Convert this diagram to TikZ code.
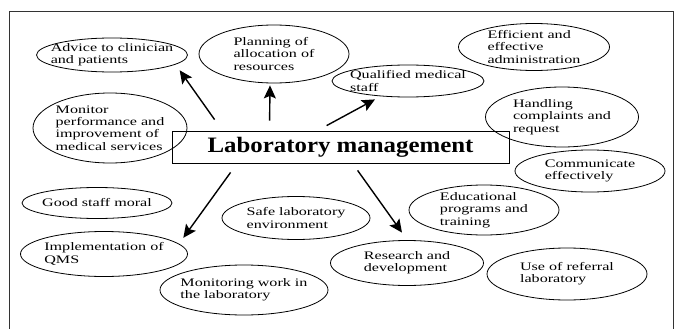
\documentclass[tikz,border=0pt]{standalone}
\usepackage{fontspec}
\setmainfont{Liberation Serif}
\newfontfamily\ellfont{Liberation Serif}[FakeStretch=1.4]
\newfontfamily\titlefont{Liberation Serif}[FakeStretch=1.13]
\usetikzlibrary{shapes.geometric,arrows.meta}

\tikzset{
  idea/.style 2 args={ellipse, draw, line width=0.8pt, inner sep=0pt, minimum width=#1, minimum height=#2},
  ideatext/.style={align=left, inner sep=0pt, font=\ellfont\fontsize{11.5}{12.3}\selectfont},
  arr/.style={-{Stealth[length=13pt,width=12pt,inset=2.5pt]}, line width=1.4pt}
}

\begin{document}
\begin{tikzpicture}[x=1pt, y=-1pt]
      \useasboundingbox (0,0) rectangle (677,329);
      \draw[line width=1pt, black!80] (9.5,329) -- (9.5,12) -- (673.5,12) -- (673.5,329);

      \node[draw, line width=0.8pt, minimum width=337pt, minimum height=32pt, font=\titlefont\fontsize{22}{26}\selectfont\bfseries] (lab) at (340.5,147) {Laboratory management};

      \node[idea={151pt}{34pt}] (advice) at (112,55) {};
      \node[ideatext] (advice-t) at (advice) {Advice to clinician\\and patients};
      \node[idea={150pt}{58pt}] (plan) at (274,54) {};
      \node[ideatext] (plan-t) at (plan) {Planning of\\allocation of\\resources};
      \node[idea={152pt}{32pt}] (qual) at (408,81) {};
      \node[ideatext] (qual-t) at (qual) {Qualified medical\\staff};
      \node[idea={151pt}{47pt}] (effic) at (534,47) {};
      \node[ideatext] (effic-t) at (effic) {Efficient and\\effective\\administration};
      \node[idea={153pt}{60pt}] (handl) at (562,117) {};
      \node[ideatext] (handl-t) at (handl) {Handling\\complaints and\\request};
      \node[idea={150pt}{42pt}] (comm) at (590,171) {};
      \node[ideatext] (comm-t) at (comm) {Communicate\\effectively};
      \node[idea={150pt}{50pt}] (edu) at (484,210) {};
      \node[ideatext] (edu-t) at (edu) {Educational\\programs and\\training};
      \node[idea={160pt}{52pt}] (refer) at (567,274) {};
      \node[ideatext] (refer-t) at (refer) {Use of referral\\laboratory};
      \node[idea={153pt}{45pt}] (research) at (407,263) {};
      \node[ideatext] (research-t) at (research) {Research and\\development};
      \node[idea={148pt}{43pt}] (safe) at (296,218) {};
      \node[ideatext] (safe-t) at (safe) {Safe laboratory\\environment};
      \node[idea={150pt}{31pt}] (moral) at (97,203) {};
      \node[ideatext] (moral-t) at (moral) {Good staff moral};
      \node[idea={167pt}{45pt}] (qms) at (104,254) {};
      \node[ideatext] (qms-t) at (qms) {Implementation of\\QMS};
      \node[idea={168pt}{50pt}] (monwork) at (244,290) {};
      \node[ideatext] (monwork-t) at (monwork) {Monitoring work in\\the laboratory};
      \node[idea={154pt}{70pt}] (monitor) at (110,128) {};
      \node[ideatext] (monitor-t) at (monitor) {Monitor\\performance and\\improvement of\\medical services};

      \draw[arr] ([xshift=43pt,yshift=11pt]lab.north west) -- ([xshift=14pt,yshift=-3pt]advice.south east);
      \draw[arr] ([xshift=98pt,yshift=10pt]lab.north west) -- ([xshift=-4pt,yshift=-2pt]plan.south);
      \draw[arr] ([xshift=155pt,yshift=5pt]lab.north west) -- ([xshift=-33pt,yshift=-2pt]qual.south);
      \draw[arr] ([xshift=59pt,yshift=-9pt]lab.south west) -- ([xshift=20pt]qms.north east);
      \draw[arr] ([xshift=186pt,yshift=-7pt]lab.south west) -- ([xshift=-5pt,yshift=7.5pt]research.north);
    \end{tikzpicture}
\end{document}
